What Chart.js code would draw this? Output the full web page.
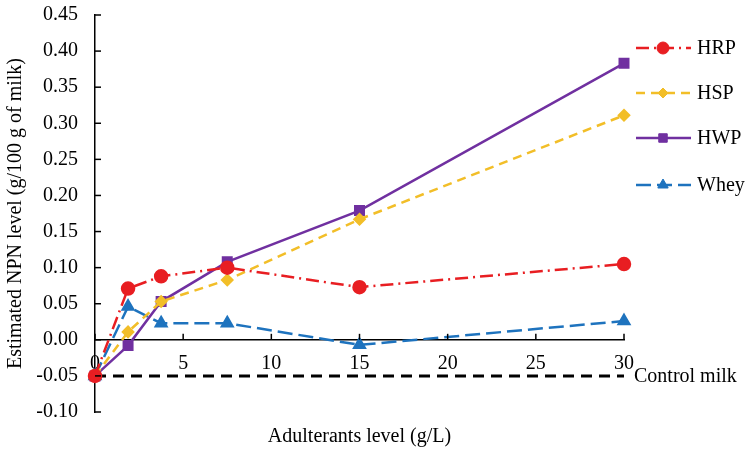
<!DOCTYPE html>
<html>
<head>
<meta charset="utf-8">
<script src="https://cdn.jsdelivr.net/npm/chart.js@4"></script>
<style>
  html, body { margin: 0; padding: 0; background: #fff; }
  #wrap { width: 747px; height: 451px; }
</style>
</head>
<body>
<div id="wrap"><canvas id="myChart"></canvas></div>
<script>
// adulterant levels (g/L)
const xLevels = [0, 1.875, 3.75, 7.5, 15, 30];
const hrpValues = [-0.05, 0.071, 0.088, 0.100, 0.073, 0.105];
const hspValues = [-0.05, 0.011, 0.053, 0.083, 0.167, 0.311];
const hwpValues = [-0.05, -0.008, 0.053, 0.108, 0.179, 0.383];
const wheyValues = [-0.05, 0.046, 0.023, 0.023, -0.007, 0.026];
const controlX = [0, 30];
const controlValues = [-0.05, -0.05];
const seriesLabels = ['HRP', 'HSP', 'HWP', 'Whey'];

const FONT = 'Liberation Serif, Times New Roman, serif';

function pts(xs, ys) {
  return xs.map((x, i) => ({x: x, y: ys[i]}));
}

// ticks pointing inside + x title + legend + control label
const extras = {
  id: 'extras',
  afterDraw(chart) {
    const ctx = chart.ctx;
    const xs = chart.scales.x, ys = chart.scales.y;
    const area = chart.chartArea;
    const y0 = ys.getPixelForValue(0);
    ctx.save();
    ctx.strokeStyle = '#000';
    ctx.lineWidth = 1.5;
    ys.ticks.forEach(t => {
      const p = ys.getPixelForValue(t.value);
      ctx.beginPath(); ctx.moveTo(area.left, p); ctx.lineTo(area.left + 6, p); ctx.stroke();
    });
    xs.ticks.forEach(t => {
      const p = xs.getPixelForValue(t.value);
      ctx.beginPath(); ctx.moveTo(p, y0); ctx.lineTo(p, y0 - 6); ctx.stroke();
    });

    ctx.fillStyle = '#000';
    ctx.font = '20px ' + FONT;
    ctx.textAlign = 'center';
    ctx.textBaseline = 'middle';
    ctx.fillText('Adulterants level (g/L)', (area.left + area.right) / 2, 437);

    // control milk label
    const ctrl = chart.data.datasets[4];
    ctx.textAlign = 'left';
    ctx.fillText(ctrl.label, xs.getPixelForValue(controlX[1]) + 10, ys.getPixelForValue(controlValues[1]) + 1);

    // legend
    const rows = [48, 93, 138, 185];
    for (let i = 0; i < 4; i++) {
      const ds = chart.data.datasets[i];
      const yy = rows[i];
      ctx.save();
      ctx.strokeStyle = ds.borderColor;
      ctx.lineWidth = ds.borderWidth;
      ctx.setLineDash(ds.borderDash || []);
      ctx.beginPath(); ctx.moveTo(636, yy); ctx.lineTo(691, yy); ctx.stroke();
      ctx.restore();
      ctx.fillStyle = ds.borderColor;
      ctx.strokeStyle = ds.borderColor;
      ctx.lineWidth = 1;
      Chart.helpers.drawPoint(ctx, {pointStyle: ds.pointStyle, radius: ds.pointRadius, borderWidth: 1}, 663, yy);
      ctx.fillStyle = '#000';
      ctx.font = '20px ' + FONT;
      ctx.textAlign = 'left';
      ctx.textBaseline = 'middle';
      ctx.fillText(ds.label, 697, yy + 1);
    }
    ctx.restore();
  }
};

const red = 'rgb(232, 30, 34)';
const gold = 'rgb(242, 190, 40)';
const purple = 'rgb(112, 48, 160)';
const blue = 'rgb(30, 115, 190)';

const config = {
  type: 'line',
  data: {
    datasets: [
      {
        label: seriesLabels[0], data: pts(xLevels, hrpValues),
        borderColor: red, backgroundColor: red, borderWidth: 2.5,
        borderDash: [13, 5, 2, 5], pointStyle: 'circle', pointRadius: 6, clip: false
      }, {
        label: seriesLabels[1], data: pts(xLevels, hspValues),
        borderColor: gold, backgroundColor: gold, borderWidth: 2.5,
        borderDash: [9, 6], pointStyle: 'rectRot', pointRadius: 5, clip: false
      }, {
        label: seriesLabels[2], data: pts(xLevels, hwpValues),
        borderColor: purple, backgroundColor: purple, borderWidth: 2.5,
        pointStyle: 'rect', pointRadius: 6, clip: false
      }, {
        label: seriesLabels[3], data: pts(xLevels, wheyValues),
        borderColor: blue, backgroundColor: blue, borderWidth: 2.5,
        borderDash: [15, 6], pointStyle: 'triangle', pointRadius: 6, clip: false
      }, {
        label: 'Control milk', data: pts(controlX, controlValues),
        borderColor: '#000', borderWidth: 3, borderDash: [11, 7],
        pointRadius: 0, clip: false
      }
    ]
  },
  options: {
    responsive: true,
    maintainAspectRatio: false,
    animation: false,
    layout: { padding: { left: 0, top: 15, right: 123, bottom: 39 } },
    plugins: { legend: { display: false }, tooltip: { enabled: false } },
    elements: { line: { tension: 0 }, point: { borderWidth: 1 } },
    scales: {
      x: {
        type: 'linear',
        position: { y: 0 },
        min: 0, max: 30,
        afterFit(scale) { scale.height = 0; scale.paddingLeft = 0; scale.paddingRight = 0; },
        grid: { display: false, drawTicks: false },
        border: { display: true, color: '#000', width: 1.5 },
        ticks: { stepSize: 5, color: '#000', padding: 12, font: { family: FONT, size: 20 } }
      },
      y: {
        min: -0.1, max: 0.45,
        afterFit(scale) { scale.width = 95; scale.paddingTop = 0; scale.paddingBottom = 0; },
        grid: { display: false, drawTicks: false },
        border: { display: true, color: '#000', width: 1.5 },
        ticks: {
          stepSize: 0.05, color: '#000', padding: 17,
          font: { family: FONT, size: 20 },
          callback: v => v.toFixed(2)
        },
        title: {
          display: true, text: 'Estimated NPN level (g/100 g of milk)',
          color: '#000', font: { family: FONT, size: 20 }, padding: { top: 4, bottom: 0 }
        }
      }
    }
  },
  plugins: [extras]
};

new Chart(document.getElementById('myChart'), config);
</script>
</body>
</html>
